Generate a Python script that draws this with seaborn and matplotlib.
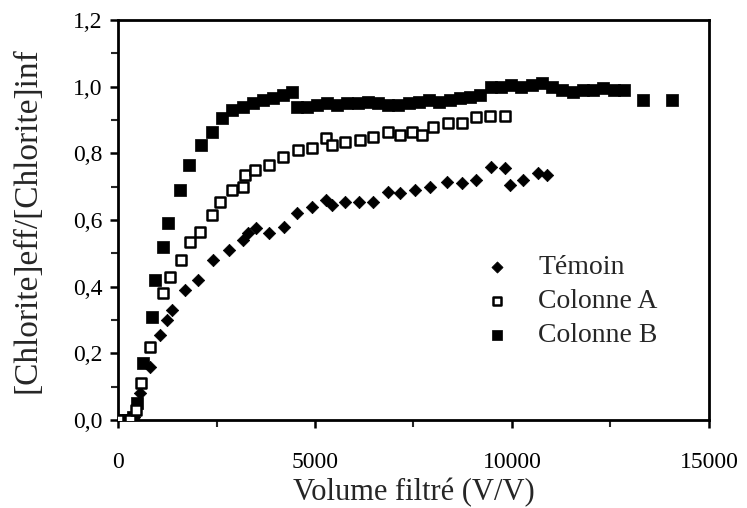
import numpy as np
import pandas as pd
import matplotlib
matplotlib.use("Agg")
import matplotlib.pyplot as plt
from matplotlib.ticker import MultipleLocator, FuncFormatter
import seaborn as sns

# Témoin (losanges pleins)
temoin_x = [0, 200, 400, 550, 810, 1070, 1240, 1370, 1700, 2030, 2410, 2820, 3170,
            3300, 3500, 3830, 4210, 4540, 4920, 5280, 5430, 5760, 6120, 6470, 6850,
            7160, 7540, 7920, 8350, 8730, 9090, 9470, 9820, 9950, 10280, 10660, 10890]
temoin_y = [0.0, 0.0, 0.01, 0.08, 0.16, 0.255, 0.30, 0.33, 0.39, 0.42, 0.48, 0.51, 0.54,
            0.56, 0.575, 0.56, 0.58, 0.62, 0.64, 0.66, 0.645, 0.655, 0.655, 0.655, 0.685,
            0.68, 0.69, 0.70, 0.715, 0.71, 0.72, 0.76, 0.755, 0.705, 0.72, 0.74, 0.735]

# Colonne A (carrés vides)
colA_x = [0, 300, 450, 590, 810, 1140, 1320, 1600, 1830, 2080, 2390, 2590, 2890, 3170,
          3220, 3480, 3830, 4190, 4570, 4920, 5280, 5430, 5760, 6140, 6470, 6850, 7160,
          7460, 7720, 8000, 8380, 8730, 9090, 9440, 9820]
colA_y = [0.0, 0.0, 0.03, 0.11, 0.22, 0.38, 0.43, 0.48, 0.535, 0.565, 0.615, 0.655, 0.69,
          0.70, 0.735, 0.75, 0.765, 0.79, 0.81, 0.815, 0.845, 0.825, 0.835, 0.84, 0.85,
          0.865, 0.855, 0.865, 0.855, 0.88, 0.89, 0.89, 0.91, 0.912, 0.912]

# Colonne B (carrés pleins)
colB_x = [0, 250, 380, 480, 640, 860, 940, 1140, 1270, 1570, 1800, 2100, 2380, 2640,
          2890, 3170, 3430, 3680, 3930, 4190, 4410, 4540, 4800, 5050, 5300, 5560, 5820,
          6080, 6340, 6600, 6860, 7120, 7380, 7640, 7900, 8160, 8420, 8680, 8940, 9200,
          9460, 9720, 9980, 10240, 10500, 10760, 11020, 11280, 11540, 11800, 12060,
          12320, 12580, 12840, 13320, 14060]
colB_y = [0.0, 0.0, 0.01, 0.05, 0.17, 0.31, 0.42, 0.52, 0.59, 0.69, 0.765, 0.825, 0.865,
          0.905, 0.93, 0.94, 0.95, 0.96, 0.965, 0.975, 0.985, 0.94, 0.94, 0.945, 0.95,
          0.945, 0.95, 0.95, 0.955, 0.95, 0.945, 0.945, 0.95, 0.955, 0.96, 0.955, 0.96,
          0.965, 0.97, 0.975, 1.0, 1.0, 1.005, 1.0, 1.005, 1.01, 1.0, 0.99, 0.985, 0.99,
          0.99, 0.995, 0.99, 0.99, 0.96, 0.96]

x_ticks = [0, 5000, 10000, 15000]
y_ticks = [0.0, 0.2, 0.4, 0.6, 0.8, 1.0, 1.2]

sns.set_theme(style="ticks")
plt.rcParams['font.family'] = ['Liberation Serif', 'DejaVu Serif']

fig, ax = plt.subplots(figsize=(7.47, 5.08), dpi=100)
fig.subplots_adjust(left=0.158, right=0.949, top=0.961, bottom=0.173)

sns.scatterplot(x=temoin_x, y=temoin_y, marker='D', s=40, color='black',
                edgecolor='black', linewidth=0.5, label='Témoin', ax=ax, zorder=3)
sns.scatterplot(x=colA_x, y=colA_y, marker='s', s=50, color='white',
                edgecolor='black', linewidth=1.8, label='Colonne A', ax=ax, zorder=4)
sns.scatterplot(x=colB_x, y=colB_y, marker='s', s=70, color='black',
                edgecolor='black', linewidth=0.5, label='Colonne B', ax=ax, zorder=3)

ax.set_xlim(0, 15000)
ax.set_ylim(0, 1.2)
ax.set_xticks(x_ticks)
ax.set_yticks(y_ticks)
ax.xaxis.set_minor_locator(MultipleLocator(2500))
ax.yaxis.set_minor_locator(MultipleLocator(0.1))
ax.yaxis.set_major_formatter(FuncFormatter(lambda v, p: f"{v:.1f}".replace('.', ',')))
ax.tick_params(axis='both', which='major', direction='out', length=6, width=1.8,
               labelsize=17, colors='black')
ax.tick_params(axis='x', which='major', pad=17)
ax.tick_params(axis='y', which='major', pad=5)
ax.tick_params(axis='both', which='minor', direction='out', length=5, width=1.5)

for side in ['left', 'right', 'top', 'bottom']:
    ax.spines[side].set_visible(True)
    ax.spines[side].set_linewidth(2)
    ax.spines[side].set_color('black')

ax.set_xlabel('Volume filtré (V/V)', fontsize=22)
ax.set_ylabel('[Chlorite]eff/[Chlorite]inf', fontsize=24)
ax.xaxis.set_label_coords(0.5, -0.145)
ax.yaxis.set_label_coords(-0.128, 0.5)

ax.legend(loc='upper left', bbox_to_anchor=(0.575, 0.475), frameon=False, fontsize=20,
          labelspacing=0.3, handlelength=1.0, handletextpad=1.0, markerscale=0.9)

fig.savefig('out.png', dpi=100, facecolor='white')
